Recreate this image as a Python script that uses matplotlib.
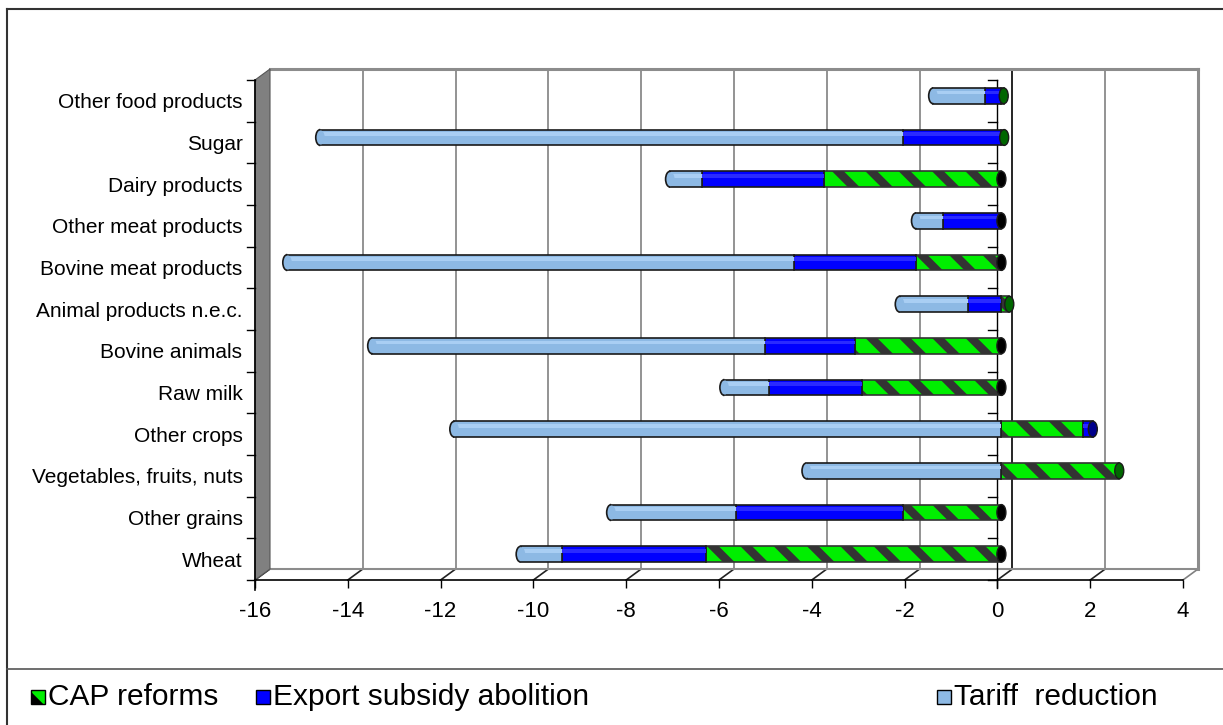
import matplotlib.pyplot as plt
import matplotlib.transforms as mtransforms
from matplotlib.patches import Polygon, Ellipse, Arc, Rectangle
from matplotlib.lines import Line2D

plt.rcParams['font.family'] = ['Liberation Sans', 'DejaVu Sans']
plt.rcParams['hatch.linewidth'] = 6

# sectors, bottom to top
categories = ['Wheat', 'Other grains', 'Vegetables, fruits, nuts', 'Other crops',
              'Raw milk', 'Bovine animals', 'Animal products n.e.c.',
              'Bovine meat products', 'Other meat products', 'Dairy products',
              'Sugar', 'Other food products']

# % change per policy scenario
cap_reforms = [-6.37, -2.11, 2.54, 1.75, -3.00, -3.16, 0.17, -1.84, 0.00, -3.82, 0.06, 0.05]
export_subsidy = [-3.10, -3.61, 0.00, 0.22, -2.00, -1.94, -0.72, -2.64, -1.25, -2.63, -2.13, -0.35]
tariff_reduction = [-0.89, -2.69, -4.20, -11.79, -0.97, -8.46, -1.47, -10.91, -0.59, -0.69, -12.55, -1.12]

series_names = ['CAP reforms', 'Export subsidy abolition', 'Tariff  reduction']
xticks = list(range(-16, 5, 2))

W, H = 1223, 725
fig = plt.figure(figsize=(W / 100, H / 100), dpi=100)

# front plane of the 3-D box in pixels
x0, x1, ytop, ybot = 255, 1183, 80, 580
ax = fig.add_axes([x0 / W, 1 - ybot / H, (x1 - x0) / W, (ybot - ytop) / H])
ax.set_xlim(-16, 4)
ax.set_ylim(-0.5, len(categories) - 0.5)
ax.patch.set_visible(False)
for s in ax.spines.values():
    s.set_visible(False)

ppx = (x1 - x0) / 20.0
ppy = (ybot - ytop) / len(categories)
DX, DY = 15 / ppx, 11 / ppy          # depth of the box in data units
ylo, yhi = -0.5, len(categories) - 0.5

# back wall and floor
for xv in xticks:
    col = 'black' if xv == 0 else '#808080'
    if -16 < xv < 4:
        ax.add_line(Line2D([xv + DX, xv + DX], [ylo + DY, yhi + DY], color=col, lw=1.2, zorder=1, clip_on=False))
    ax.add_line(Line2D([xv, xv + DX], [ylo, ylo + DY], color='#808080' if xv == 4 else '#222222',
                       lw=1.2, zorder=1, clip_on=False))
ax.add_line(Line2D([-16 + DX, 4 + DX], [yhi + DY, yhi + DY], color='#8c8c8c', lw=2.2, zorder=1, clip_on=False))
ax.add_line(Line2D([4 + DX, 4 + DX], [ylo + DY, yhi + DY], color='#8c8c8c', lw=2.2, zorder=1, clip_on=False))
ax.add_line(Line2D([-16 + DX, 4 + DX], [ylo + DY, ylo + DY], color='#8c8c8c', lw=1.5, zorder=1, clip_on=False))
ax.add_line(Line2D([-16, 4], [ylo, ylo], color='black', lw=1.2, zorder=2, clip_on=False))

# left side wall
wall = Polygon([(-16, ylo), (-16 + DX, ylo + DY), (-16 + DX, yhi + DY), (-16, yhi)],
               closed=True, facecolor='#808080', edgecolor='#555555', lw=0.8, zorder=1, clip_on=False)
ax.add_patch(wall)
ax.add_line(Line2D([-16, -16], [ylo - 0.24, yhi], color='black', lw=1.2, zorder=2, clip_on=False))

# vertical axis at zero
ax.add_line(Line2D([0, 0], [ylo - 0.2, yhi], color='black', lw=1.0, zorder=2, clip_on=False))
for k in range(len(categories) + 1):
    yb = ylo + k
    ax.add_line(Line2D([-0.2, 0], [yb, yb], color='black', lw=1.0, zorder=2, clip_on=False))
    ax.add_line(Line2D([-16 - 8 / ppx, -16], [yb, yb], color='black', lw=1.0, zorder=2, clip_on=False))

# ticks and labels
ax.set_xticks(xticks)
ax.set_xticklabels([str(v) for v in xticks], fontsize=16)
ax.tick_params(axis='x', direction='out', length=6, width=1, pad=9)
ax.set_yticks(range(len(categories)))
ax.set_yticklabels(categories, fontsize=15)
ax.tick_params(axis='y', length=0, pad=9)

# bars sit a little behind the front plane
bar_tr = ax.transData + mtransforms.ScaledTranslation(4 / 100, 5 / 100, fig.dpi_scale_trans)
bh = 0.38
colors = ['#00ee00', '#0000ff', '#8db9e4']
highlights = [None, '#2a2aff', '#a9cef3']
ends = ['#006600', '#00008b', '#5d84ad']

pos_base = [0.0] * len(categories)
neg_base = [0.0] * len(categories)
left_end = [0.0] * len(categories)
right_end = [0.0] * len(categories)
right_col = ['black'] * len(categories)
left_col = [colors[2]] * len(categories)
ypos = list(range(len(categories)))

for si, vals in enumerate([cap_reforms, export_subsidy, tariff_reduction]):
    lefts = []
    for i, v in enumerate(vals):
        if v >= 0:
            lefts.append(pos_base[i])
            pos_base[i] += v
            if v > 0 and pos_base[i] >= right_end[i]:
                right_end[i] = pos_base[i]
                right_col[i] = ends[si]
        else:
            lefts.append(neg_base[i])
            neg_base[i] += v
            if neg_base[i] <= left_end[i]:
                left_end[i] = neg_base[i]
                left_col[i] = colors[si]
    kw = dict(height=bh, left=lefts, color=colors[si], edgecolor='#1a1a1a', linewidth=1.2,
              transform=bar_tr, zorder=3)
    if si == 0:
        kw['hatch'] = '\\'
        kw['edgecolor'] = '#333333'
    ax.barh(ypos, vals, **kw)
    if highlights[si]:
        ax.barh([y + 0.08 for y in ypos], vals, height=0.09, left=lefts, color=highlights[si],
                linewidth=0, transform=bar_tr, zorder=3.5)

ew = 9 / ppx
for i, y in enumerate(ypos):
    # rounded far end and flat near face of each cylinder
    ax.add_patch(Ellipse((left_end[i], y), ew, bh * 0.9, facecolor=left_col[i], edgecolor='none',
                         transform=bar_tr, zorder=4))
    ax.add_patch(Arc((left_end[i], y), ew, bh, theta1=90, theta2=270, color='#1a1a1a', lw=1.2,
                     transform=bar_tr, zorder=4))
    ax.add_patch(Ellipse((right_end[i], y), ew, bh, facecolor=right_col[i], edgecolor='#1a1a1a',
                         lw=1.0, transform=bar_tr, zorder=4))

# chart border and legend
def fx(px):
    return px / W

def fy(py):
    return 1 - py / H

fig.add_artist(Line2D([fx(7), fx(7)], [fy(9), fy(H + 5)], color='#333333', lw=1.5, transform=fig.transFigure))
fig.add_artist(Line2D([fx(7), fx(W + 5)], [fy(9), fy(9)], color='#333333', lw=1.5, transform=fig.transFigure))
fig.add_artist(Line2D([fx(7), fx(W + 5)], [fy(669), fy(669)], color='#555555', lw=1.2, transform=fig.transFigure))

legend_x = [31, 256, 937]
for si, name in enumerate(series_names):
    sq = Rectangle((fx(legend_x[si]), fy(704)), 14 / W, 14 / H, transform=fig.transFigure,
                   facecolor=colors[si], edgecolor='black', lw=1.0,
                   hatch='\\' if si == 0 else None)
    fig.add_artist(sq)
    fig.text(fx(legend_x[si] + 17), fy(697), name, fontsize=21.5, va='center', ha='left')

fig.savefig('out.png', dpi=100)
